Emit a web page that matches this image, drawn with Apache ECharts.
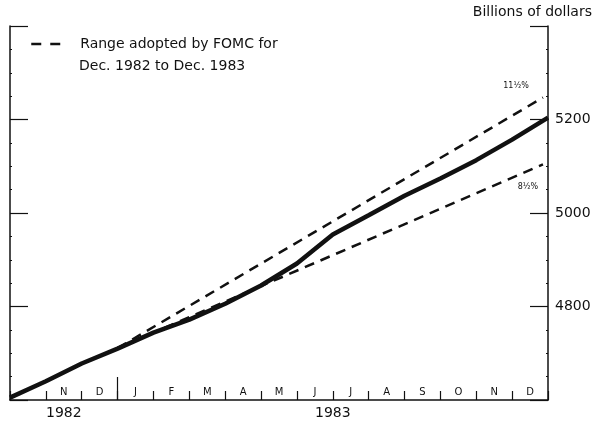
<!DOCTYPE html>
<html>
<head>
<meta charset="utf-8">
<script src="https://cdn.jsdelivr.net/npm/echarts@6/dist/echarts.min.js"></script>
<style>html,body{margin:0;padding:0;background:#fff}#c{width:594px;height:425px}</style>
</head>
<body>
<div id="c"></div>
<script>
// Months from Oct 1982 to Dec 1983 (first month unlabeled)
const monthLabels = ['', 'N', 'D', 'J', 'F', 'M', 'A', 'M', 'J', 'J', 'A', 'S', 'O', 'N', 'D'];
const yearLabels = ['1982', '1983'];
const yearStartMonth = [0, 3];
const yearEndMonth = [3, 15];
// Solid line: x in months since Oct 1, 1982
const debtX = [0, 1, 2, 3, 4, 5, 6, 7, 8, 9, 10, 11, 12, 13, 14, 15];
const debtY = [4605, 4640, 4678, 4710, 4744, 4772, 4806, 4845, 4892, 4954, 4995, 5037, 5074, 5113, 5157, 5204];
// FOMC range (dashed)
const rangeX = [3, 14.86];
const rangeUpper = [4711, 5247];
const rangeLower = [4711, 5104];
const yTickLabels = [4800, 5000, 5200];
const rangeName = 'Range adopted by FOMC for';
const rangeName2 = 'Dec. 1982 to Dec. 1983';

const FONT = 'DejaVu Sans';
const INK = '#111';
const TXT = '#111';

const zip = (xs, ys) => xs.map((x, i) => [x, ys[i]]);
const monthCenters = monthLabels.map((m, i) => i + 0.5).filter((v, i) => monthLabels[i] !== '');
const yearCenters = yearLabels.map((y, i) => (yearStartMonth[i] + yearEndMonth[i]) / 2);

const chart = echarts.init(document.getElementById('c'), null, {renderer: 'canvas'});
const dashed = {color: INK, width: 2.5, type: [10, 7]};
const last = rangeX.length - 1;

chart.setOption({
  animation: false,
  backgroundColor: '#fff',
  title: [
    {text: rangeName2, left: 79, top: 59, padding: 0,
     textStyle: {fontFamily: FONT, fontSize: 14, fontWeight: 'normal', color: TXT}},
    {text: 'Billions of dollars', right: 2, top: 5, padding: 0,
     textStyle: {fontFamily: FONT, fontSize: 14, fontWeight: 'normal', color: TXT}}
  ],
  legend: {
    data: [rangeName], left: 30, top: 37, padding: 0,
    itemWidth: 32, itemHeight: 14,
    itemStyle: {opacity: 0},
    lineStyle: {type: [10, 9], width: 2.5, color: INK},
    textStyle: {fontFamily: FONT, fontSize: 14, color: TXT, padding: [0, 0, 0, 12]}
  },
  grid: {left: 10, right: 46, top: 26, bottom: 25},
  xAxis: [
    {type: 'value', min: 0, max: 15, interval: 1, position: 'bottom',
     axisLine: {show: true, onZero: false, lineStyle: {color: INK, width: 1.5}},
     axisTick: {show: true, inside: true, length: 9, lineStyle: {color: INK, width: 1.2}},
     axisLabel: {show: false}, splitLine: {show: false}},
    {type: 'value', min: 0, max: 15, position: 'bottom',
     axisLine: {show: false, onZero: false}, axisTick: {show: false}, splitLine: {show: false},
     axisLabel: {show: true, inside: true, margin: 3, customValues: monthCenters,
       formatter: v => monthLabels[Math.floor(v)] || '',
       fontFamily: FONT, fontSize: 10, color: TXT}},
    {type: 'value', min: 0, max: 15, position: 'bottom',
     axisLine: {show: false, onZero: false}, axisTick: {show: false}, splitLine: {show: false},
     axisLabel: {show: true, margin: 6, customValues: yearCenters,
       formatter: v => yearLabels[yearCenters.indexOf(v)] || '',
       fontFamily: FONT, fontSize: 14, color: TXT}},
    {type: 'value', min: 0, max: 15, position: 'bottom',
     axisLine: {show: false, onZero: false}, splitLine: {show: false}, axisLabel: {show: false},
     axisTick: {show: true, inside: true, length: 23, customValues: [yearStartMonth[1]],
       lineStyle: {color: INK, width: 1.2}}}
  ],
  yAxis: [
    {type: 'value', position: 'right', min: 4600, max: 5400, interval: 200,
     axisLine: {show: true, onZero: false, lineStyle: {color: INK, width: 1.5}},
     axisTick: {show: true, inside: true, length: 18, lineStyle: {color: INK, width: 1.2}},
     minorTick: {show: true, splitNumber: 4, length: 2, lineStyle: {color: INK}},
     splitLine: {show: false},
     axisLabel: {margin: 7, fontFamily: FONT, fontSize: 14, color: TXT,
       formatter: v => yTickLabels.indexOf(v) >= 0 ? String(v) : ''}},
    {type: 'value', position: 'left', min: 4600, max: 5400, interval: 200,
     axisLine: {show: true, onZero: false, lineStyle: {color: INK, width: 1.5}},
     axisTick: {show: true, inside: true, length: 18, lineStyle: {color: INK, width: 1.2}},
     minorTick: {show: true, splitNumber: 4, length: 2, lineStyle: {color: INK}},
     splitLine: {show: false}, axisLabel: {show: false}}
  ],
  series: [
    {name: rangeName, type: 'line', data: zip(rangeX, rangeUpper), symbol: 'none',
     lineStyle: dashed, itemStyle: {color: INK}, z: 2,
     markPoint: {symbol: 'circle', symbolSize: 0, silent: true,
       data: [{coord: [rangeX[last], rangeUpper[last]]}],
       label: {show: true, formatter: '11½%', offset: [-27, -12], fontFamily: FONT, fontSize: 8, color: TXT}}},
    {name: rangeName, type: 'line', data: zip(rangeX, rangeLower), symbol: 'none',
     lineStyle: dashed, itemStyle: {color: INK}, z: 2,
     markPoint: {symbol: 'circle', symbolSize: 0, silent: true,
       data: [{coord: [rangeX[last], rangeLower[last]]}],
       label: {show: true, formatter: '8½%', offset: [-15, 23], fontFamily: FONT, fontSize: 8, color: TXT}}},
    {name: 'Debt', type: 'line', data: zip(debtX, debtY), symbol: 'none',
     lineStyle: {color: INK, width: 4.5}, itemStyle: {color: INK}, z: 3}
  ]
});
</script>
</body>
</html>
